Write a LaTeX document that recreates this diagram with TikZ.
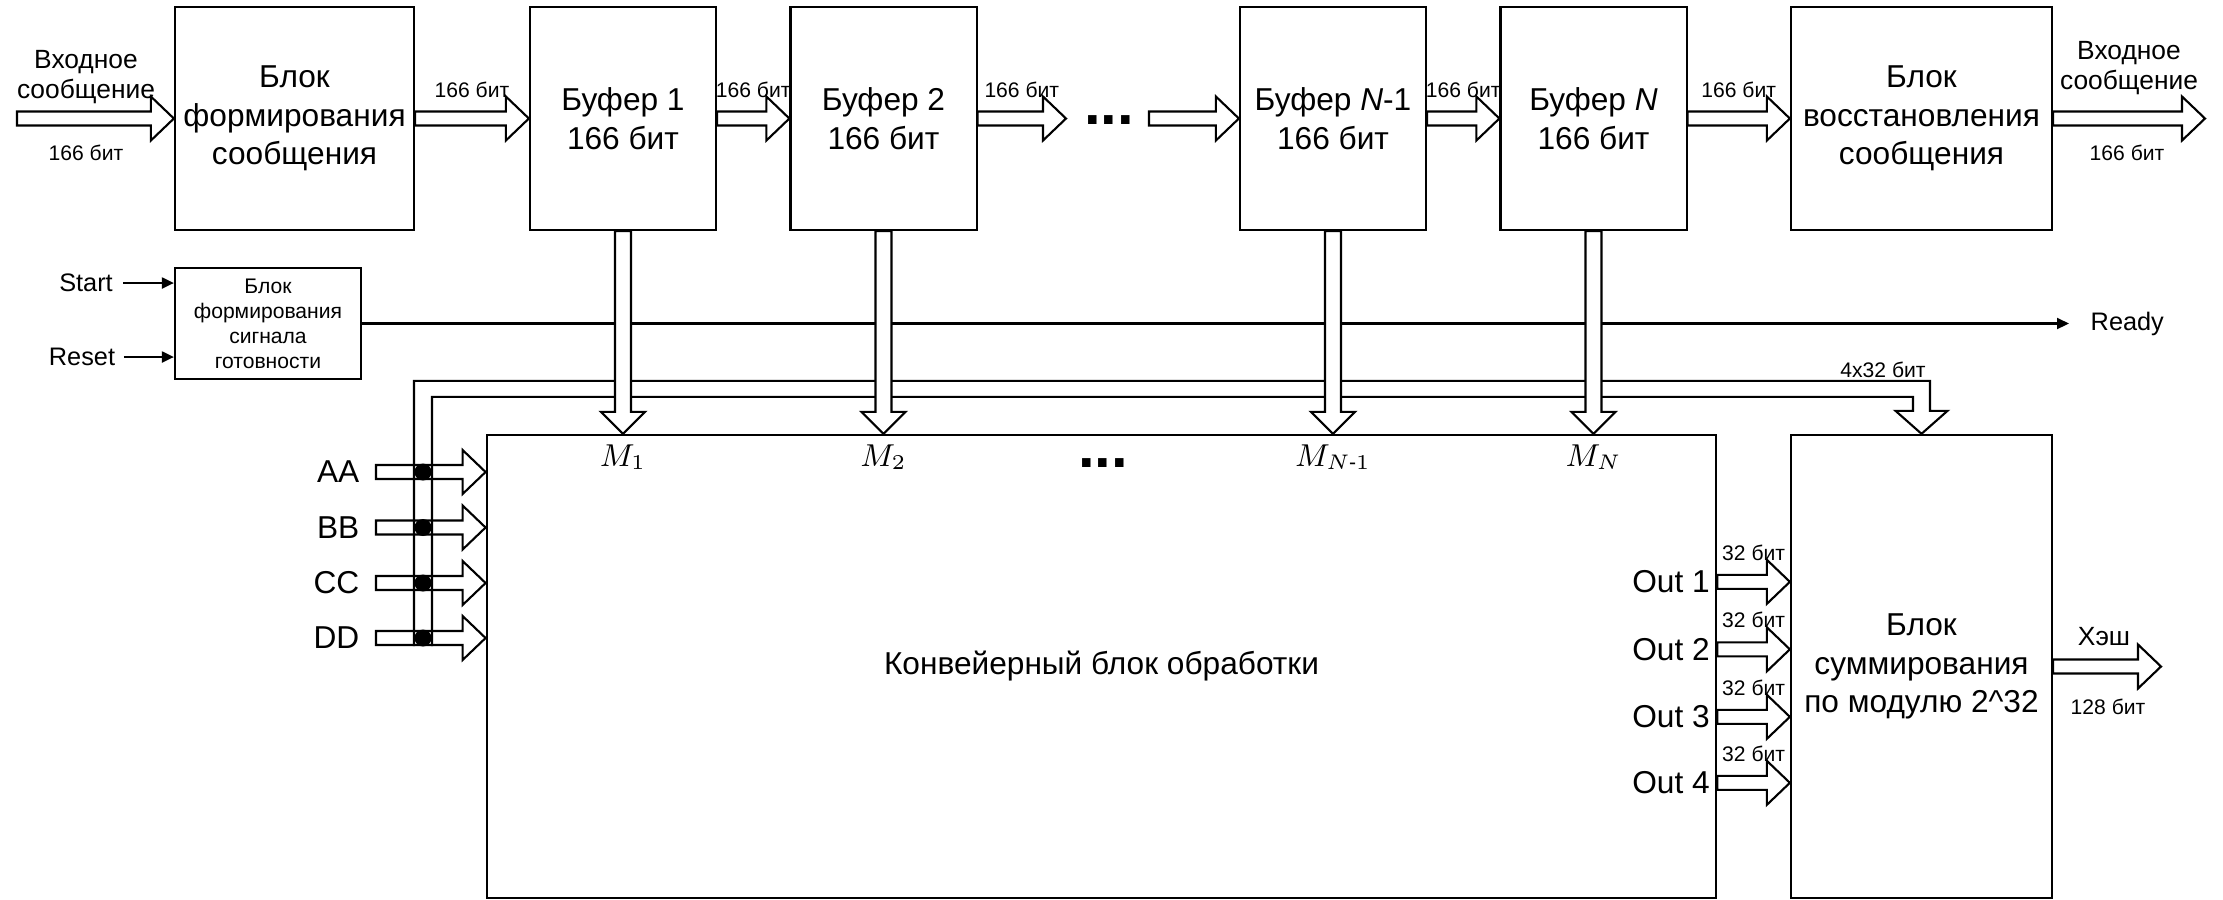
\documentclass[tikz,border=0pt]{standalone}
\usepackage{amsmath}
\usepackage{fontspec}
\setmainfont{Liberation Sans}
\usetikzlibrary{positioning, arrows.meta, calc}

\tikzset{
    block/.style={draw, rectangle, line width=0.6pt, align=center, inner sep=0pt,
        font=\fontsize{9}{11}\selectfont},
    bufbox/.style={block, minimum width=1.86cm, minimum height=2.23cm},
    lbl/.style={inner sep=0pt, font=\fontsize{6}{7}\selectfont},
    sigtxt/.style={inner sep=0pt, font=\fontsize{7.2}{8}\selectfont},
    portlbl/.style={inner sep=0pt, font=\fontsize{9}{10}\selectfont},
    msglbl/.style={inner sep=0pt, align=center, font=\fontsize{7.5}{8.6}\selectfont},
    dots/.style={inner sep=0pt, font=\fontsize{17}{17}\selectfont\bfseries},
    busline/.style={draw, line width=0.6pt, fill=white},
    wire/.style={line width=0.6pt},
    sig/.style={line width=0.6pt, -{Triangle[length=0.12cm, width=0.11cm]}},
}

% wide arrow to the right: from, to, label above
\newcommand{\hbus}[3]{%
    \draw[busline] ($#1+(0,-7)$) -- ($#2+(-23,-7)$) -- ($#2+(-23,-22)$) -- #2
        -- ($#2+(-23,22)$) -- ($#2+(-23,7)$) -- ($#1+(0,7)$) -- cycle;
    \path #1 -- #2 node[midway, yshift=0.29cm, lbl] {#3};}

% wide arrow downwards: from, to
\newcommand{\vbus}[2]{%
    \draw[busline] ($#1+(-8,0)$) -- ($#2+(-8,-22)$) -- ($#2+(-22,-22)$) -- #2
        -- ($#2+(22,-22)$) -- ($#2+(8,-22)$) -- ($#1+(8,0)$) -- cycle;}

\begin{document}
\begin{tikzpicture}[x=0.01cm, y=-0.01cm]
    \path[use as bounding box, fill=white] (0,0) rectangle (2223,899);

    % Top row of blocks
    \node[block, minimum width=2.39cm, minimum height=2.23cm] (msgblk) at (294.5,118.5) {Блок\\формирования\\сообщения};
    \node[bufbox] (buf1) at (623,118.5) {Буфер 1\\166 бит};
    \node[bufbox] (buf2) at (883.5,118.5) {Буфер 2\\166 бит};
    \node[bufbox] (bufNm) at (1333,118.5) {Буфер \textit{N}-1\\166 бит};
    \node[bufbox] (bufN) at (1593.5,118.5) {Буфер \textit{N}\\166 бит};
    \node[block, minimum width=2.61cm, minimum height=2.23cm] (restore) at (1921.5,118.5) {Блок\\восстановления\\сообщения};

    % Lower blocks
    \node[block, minimum width=1.86cm, minimum height=1.11cm, font=\fontsize{6}{7.1}\selectfont] (ready) at (268,323.5) {Блок\\формирования\\сигнала\\готовности};
    \node[block, minimum width=12.29cm, minimum height=4.63cm] (conv) at (1101.5,666.5) {Конвейерный блок обработки};
    \node[block, minimum width=2.61cm, minimum height=4.63cm] (sum) at (1921.5,666.5) {Блок\\суммирования\\по модулю 2\textasciicircum32};

    % Message path through the buffers
    \coordinate (msgin) at (17,118.5);
    \coordinate (msgout) at (2205,118.5);
    \hbus{(msgin)}{(msgblk.west)}{}
    \node[msglbl] (inlbl) at (86,77) {Входное\\сообщение};
    \node[lbl] (inbits) at (86,153) {166 бит};
    \hbus{(msgblk.east)}{(buf1.west)}{166 бит}
    \hbus{(buf1.east)}{(buf2.west)}{166 бит}
    \coordinate (gapl) at (1066,118.5);
    \coordinate (gapr) at (1149,118.5);
    \hbus{(buf2.east)}{(gapl)}{166 бит}
    \node[dots] (topdots) at (1109,120) {...};
    \hbus{(gapr)}{(bufNm.west)}{}
    \hbus{(bufNm.east)}{(bufN.west)}{166 бит}
    \hbus{(bufN.east)}{(restore.west)}{166 бит}
    \hbus{(restore.east)}{(msgout)}{}
    \node[msglbl] (outlbl) at (2129,68) {Входное\\сообщение};
    \node[lbl] (outbits) at (2127,153) {166 бит};

    % Start / Reset / Ready
    \node[sigtxt] (start) at (86,283) {Start};
    \node[sigtxt] (reset) at (82,357) {Reset};
    \draw[sig] ([xshift=0.1cm]start.east) -- (start.east -| ready.west);
    \draw[sig] ([xshift=0.08cm]reset.east) -- (reset.east -| ready.west);
    \coordinate (readyend) at (2069,323.5);
    \node[sigtxt, right=0.21cm of readyend] (readytxt) {Ready};
    \draw[sig] (ready.east) -- (readyend);

    % Constant inputs
    \foreach \nm/\yy [count=\i] in {AA/472, BB/527.5, CC/583, DD/638} {
        \coordinate (in\i) at (376,\yy);
        \hbus{(in\i)}{(in\i -| conv.west)}{}
        \node[portlbl, left=0.16cm of in\i] (lab\i) {\nm};
    }

    % Constants bus to the summation block
    \coordinate (hs) at ($(sum.north)+(0,-23)$);
    \draw[wire] (414,646) |- ($(hs)+(8.5,-30)$) -- ($(hs)+(8.5,0)$) -- ($(hs)+(26,0)$) -- (sum.north)
        -- ($(hs)+(-26,0)$) -- ($(hs)+(-8.5,0)$) -- ($(hs)+(-8.5,-14)$) -| (432,646);
    \node[lbl] (w128) at (1883,370) {4x32 бит};
    \coordinate (bus) at (423,0);
    \foreach \i in {1,...,4}
        \fill (in\i -| bus) circle (0.085cm);

    % Message words into the pipeline
    \foreach \b/\m in {buf1/M_1, buf2/M_2, bufNm/M_{N\text{-}1}, bufN/M_N} {
        \coordinate (m\b) at (\b.south |- conv.north);
        \vbus{(\b.south)}{(m\b)}
        \node[portlbl, below=0.1cm of m\b] {$\m$};
    }
    \node[dots] (middots) at (1103,463) {...};

    % Outputs into the summation block
    \foreach \k/\yy in {1/583, 2/650.5, 3/718, 4/784} {
        \path (conv.north east) ++(0,\yy-435) coordinate (o\k);
        \hbus{(o\k)}{(o\k -| sum.west)}{32 бит}
        \node[portlbl, left=0.07cm of o\k] (out\k) {Out \k};
    }

    % Hash output
    \coordinate (hashout) at (2161,666.5);
    \hbus{(sum.east)}{(hashout)}{}
    \node[sigtxt, font=\fontsize{7.5}{8}\selectfont] (hashlbl) at (2104,637) {Хэш};
    \node[lbl] (hashbits) at (2108,707) {128 бит};

\end{tikzpicture}
\end{document}
